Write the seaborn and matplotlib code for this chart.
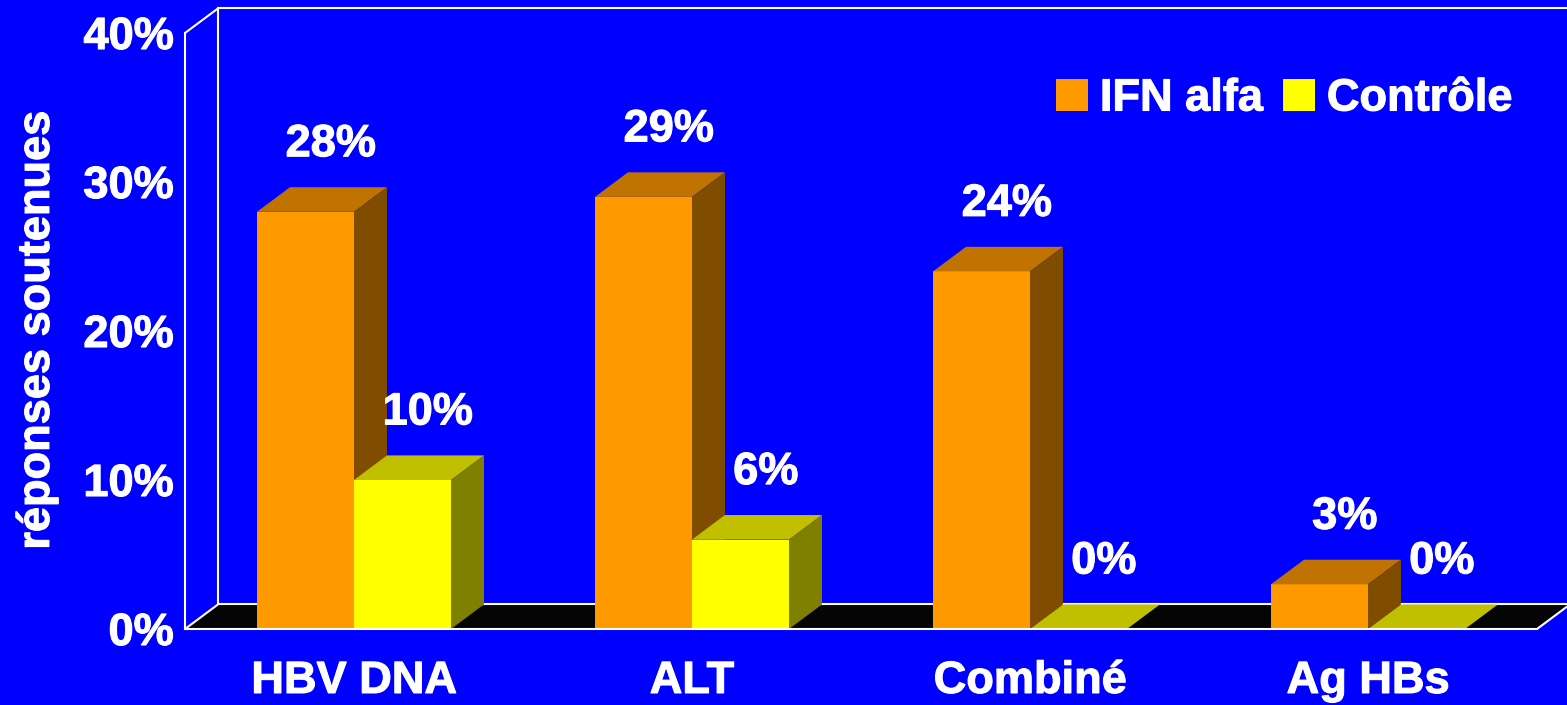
import matplotlib
matplotlib.use("Agg")
from matplotlib import pyplot as plt
from matplotlib.patches import Polygon, Patch
import matplotlib.patheffects as pe
import seaborn as sns
import pandas as pd

categories = ["HBV DNA", "ALT", "Combiné", "Ag HBs"]
series = ["IFN alfa", "Contrôle"]
ifn_alfa = [28, 29, 24, 3]
controle = [10, 6, 0, 0]
yticks = [0, 10, 20, 30, 40]

BLUE = "#0000FF"
# front / top / side shades for the fake 3D bars
shades = {
    "IFN alfa": ("#FF9900", "#C07300", "#804C00"),
    "Contrôle": ("#FFFF00", "#C0C000", "#808000"),
}
DX, DY = 0.0976, 1.65  # depth offset (category units, % units)
FS = 32.5
heavy = [pe.withStroke(linewidth=0.8, foreground="white")]

sns.set_style("white")
plt.rcParams["font.family"] = ["Liberation Sans", "DejaVu Sans"]
plt.rcParams["font.weight"] = "bold"

df = pd.DataFrame({
    "cat": categories * 2,
    "group": [series[0]] * len(categories) + [series[1]] * len(categories),
    "val": ifn_alfa + controle,
})

fig = plt.figure(figsize=(15.67, 7.05), dpi=100)
fig.set_facecolor(BLUE)
ax = fig.add_axes([185 / 1567, 76 / 705, 1352 / 1567, 596 / 705])
ax.set_facecolor(BLUE)

sns.barplot(data=df, x="cat", y="val", hue="group", hue_order=series,
            palette=[shades[s][0] for s in series], width=0.574, gap=0,
            saturation=1, legend=False, ax=ax, linewidth=0)

ax.set_xlim(-0.5, len(categories) - 0.5)
ax.set_ylim(0, 40)
x_lo, x_hi = ax.get_xlim()
y_top = ax.get_ylim()[1]

# floor and back wall
ax.add_patch(Polygon([(x_lo, 0), (x_hi, 0), (x_hi + DX, DY), (x_lo + DX, DY)],
                     fc="#050505", ec="none", zorder=1, clip_on=False))
line_kw = dict(color="white", lw=1.5, clip_on=False, zorder=1.5)
ax.plot([x_lo + DX, x_lo + DX], [DY, y_top + DY], **line_kw)
ax.plot([x_lo + DX, x_hi + DX + 0.2], [y_top + DY, y_top + DY], **line_kw)
ax.plot([x_lo + DX, x_hi + DX], [DY, DY], **line_kw)
ax.plot([x_lo, x_lo + DX], [y_top, y_top + DY], **line_kw)
ax.plot([x_lo, x_lo + DX], [0, DY], **line_kw)
ax.plot([x_hi, x_hi + DX], [0, DY], **line_kw)

for cont, name in zip(ax.containers, series):
    front, top, side = shades[name]
    for bar in cont:
        x0, w, h = bar.get_x(), bar.get_width(), bar.get_height()
        z = 3 + x0
        bar.set_zorder(z)
        ax.add_patch(Polygon([(x0, h), (x0 + w, h), (x0 + w + DX, h + DY), (x0 + DX, h + DY)],
                             fc=top, ec="none", lw=0, zorder=z))
        if h > 0:
            ax.add_patch(Polygon([(x0 + w, 0), (x0 + w, h), (x0 + w + DX, h + DY), (x0 + w + DX, DY)],
                                 fc=side, ec="none", lw=0, zorder=z))
        ax.text(x0 + w / 2 + 0.075, h + 4.5, f"{h:.0f}%", ha="center", va="center",
                color="white", fontsize=FS, fontweight="bold", zorder=10,
                path_effects=heavy)

sns.despine(ax=ax)
for s in ("left", "bottom"):
    ax.spines[s].set_color("white")
    ax.spines[s].set_linewidth(1.5)
    ax.spines[s].set_zorder(8)

ax.set_yticks(yticks, [f"{t}%" for t in yticks])
ax.tick_params(axis="y", colors="white", labelsize=FS, length=5, width=1.5, pad=3)
ax.set_xticks(range(len(categories)), categories)
ax.set_xticks([i - 0.5 for i in range(len(categories) + 1)], minor=True)
ax.tick_params(axis="x", which="major", length=0, labelsize=FS, labelcolor="white", pad=23)
ax.tick_params(axis="x", which="minor", length=8, width=1.5, color="white")
for lbl in ax.get_xticklabels() + ax.get_yticklabels():
    lbl.set_fontweight("bold")
    lbl.set_path_effects(heavy)

ax.set_xlabel("")
ax.set_ylabel("réponses soutenues", color="white", fontsize=FS, fontweight="bold",
              path_effects=heavy)
ax.yaxis.set_label_coords(-0.094, 0.5)

handles = [Patch(fc=shades[s][0], ec="none") for s in series]
leg = fig.legend(handles, series, ncol=2, loc="center",
                 bbox_to_anchor=(1284 / 1567, 1 - 99 / 705), frameon=False,
                 prop={"size": FS, "weight": "bold"}, labelcolor="white",
                 handlelength=0.7, handleheight=0.7, handletextpad=0.27,
                 columnspacing=0.45)
for t in leg.get_texts():
    t.set_path_effects(heavy)

fig.savefig("out.png", dpi=100, facecolor=BLUE)
